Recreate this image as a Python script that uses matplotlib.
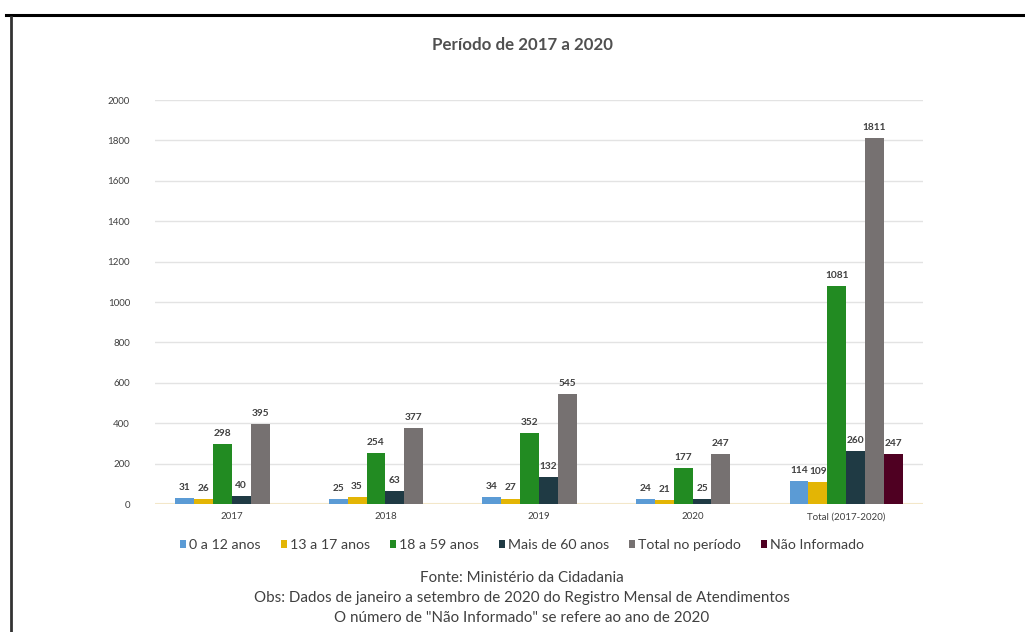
import matplotlib.pyplot as plt
import numpy as np
from matplotlib.lines import Line2D
from matplotlib.patches import Patch

plt.rcParams["font.family"] = ["Lato", "DejaVu Sans"]

categories = ["2017", "2018", "2019", "2020", "Total (2017-2020)"]
series_names = ["0 a 12 anos", "13 a 17 anos", "18 a 59 anos",
                "Mais de 60 anos", "Total no período", "Não Informado"]
v_0_12 = [31, 25, 34, 24, 114]
v_13_17 = [26, 35, 27, 21, 109]
v_18_59 = [298, 254, 352, 177, 1081]
v_60 = [40, 63, 132, 25, 260]
v_total = [395, 377, 545, 247, 1811]
v_nao = [None, None, None, None, 247]
values = [v_0_12, v_13_17, v_18_59, v_60, v_total, v_nao]
colors = ["#5b9bd5", "#e3b505", "#228b22", "#1f3a44", "#767171", "#4f0022"]

TEXT = "#404040"

fig = plt.figure(figsize=(10.25, 6.32), dpi=100)
fig.patch.set_facecolor("white")

# page frame lines (top and left)
fig.add_artist(Line2D([6 / 1025, 1.0], [1 - 15 / 632] * 2, color="black", lw=2.2,
                      transform=fig.transFigure))
fig.add_artist(Line2D([11 / 1025] * 2, [0.0, 1 - 17 / 632], color="#333333", lw=2.0,
                      transform=fig.transFigure))

ax = fig.add_axes([155 / 1025, 1 - 504 / 632, 768 / 1025, 404 / 632])

x = np.arange(len(categories))
w = 0.123
for i, (vals, c) in enumerate(zip(values, colors)):
    offs = (i - 2.5) * w
    for xi, v in zip(x, vals):
        if v is None:
            continue
        ax.bar(xi + offs, v, width=w, color=c, zorder=3)
        ax.text(xi + offs, v + 30, f"{v}", ha="center", va="bottom",
                fontsize=7.3, fontweight="bold", color=TEXT, zorder=4)

ax.set_xlim(-0.5, 4.5)
ax.set_ylim(0, 2000)
ax.set_yticks(range(0, 2001, 200))
ax.grid(axis="y", color="#e3e3e3", lw=1.0, zorder=0)
ax.axhline(0, color="#f3e7c9", lw=1.5, zorder=2)
for s in ax.spines.values():
    s.set_visible(False)
ax.set_xticks(x)
ax.set_xticklabels(categories)
ax.tick_params(axis="y", labelsize=7, colors=TEXT, length=0, pad=18)
ax.tick_params(axis="x", labelsize=7, colors=TEXT, length=0, pad=6)

fig.text(522 / 1025, 1 - 45 / 632, "Período de 2017 a 2020", ha="center", va="center",
         fontsize=12.2, fontweight="bold", color="#505050")

handles = [Patch(facecolor=c, edgecolor="none") for c in colors]
fig.legend(handles, series_names, loc="center", bbox_to_anchor=(522 / 1025, 1 - 545 / 632),
           ncol=6, frameon=False, fontsize=10.2, handlelength=0.45, handleheight=0.45,
           handletextpad=0.2, columnspacing=1.4, labelcolor=TEXT)

notes = ["Fonte: Ministério da Cidadania",
         "Obs: Dados de janeiro a setembro de 2020 do Registro Mensal de Atendimentos",
         "O número de \"Não Informado\" se refere ao ano de 2020"]
for k, line in enumerate(notes):
    fig.text(522 / 1025, 1 - (578 + 20 * k) / 632, line, ha="center", va="center",
             fontsize=10.9, color=TEXT)

fig.savefig("out.png", dpi=100, facecolor="white")
